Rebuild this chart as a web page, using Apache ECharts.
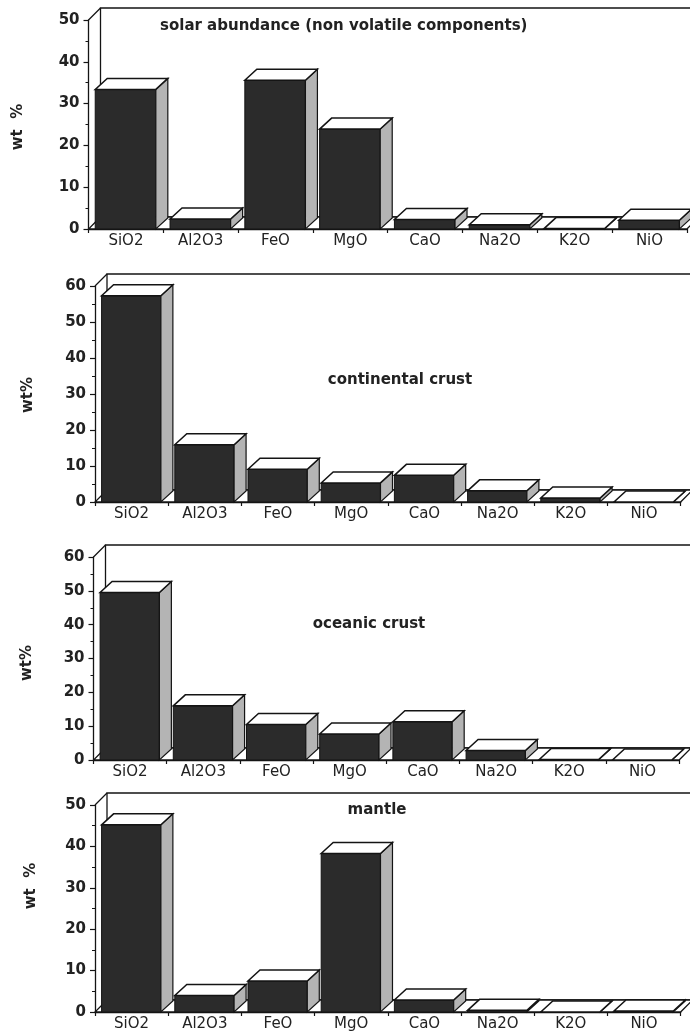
<!DOCTYPE html>
<html><head><meta charset="utf-8">
<script src="https://cdn.jsdelivr.net/npm/echarts@6/dist/echarts.min.js"></script>
<style>html,body{margin:0;padding:0;background:#fff}#c{width:690px;height:1032px}</style>
</head><body><div id="c"></div>
<script>
// ---- data ----
const categories = ['SiO2', 'Al2O3', 'FeO', 'MgO', 'CaO', 'Na2O', 'K2O', 'NiO'];
const solarValues = [33.4, 2.4, 35.6, 23.9, 2.3, 1.0, 0.1, 2.1];
const continentalValues = [57.3, 15.9, 9.1, 5.3, 7.4, 3.1, 1.1, 0];
const oceanicValues = [49.5, 16.0, 10.5, 7.7, 11.3, 2.8, 0.15, 0];
const mantleValues = [45.2, 4.0, 7.5, 38.3, 2.9, 0.4, 0.03, 0.25];
const panelTitles = ['solar abundance (non volatile components)', 'continental crust', 'oceanic crust', 'mantle'];
const yMaxes = [50, 60, 60, 50];
const yNames = ['wt  %', 'wt%', 'wt%', 'wt  %'];
const panelValues = [solarValues, continentalValues, oceanicValues, mantleValues];

// ---- layout ----
const grids = [
  {left: 88.5, top: 20, width: 598.4, height: 209},
  {left: 95, top: 286, width: 585.6, height: 216},
  {left: 93.5, top: 557, width: 585.6, height: 203},
  {left: 95, top: 805, width: 585.6, height: 208}
];
const titlePos = [
  {x: 160, y: 26, align: 'left'},
  {x: 400, y: 380, align: 'center'},
  {x: 369, y: 624, align: 'center'},
  {x: 377, y: 810, align: 'center'}
];
const yNamePos = [[18, 127], [28, 395], [27, 663], [31, 886]];
const INK = '#141414';
const FONT = '"DejaVu Sans", "Liberation Sans", sans-serif';

function renderBar(params, api) {
  const idx = api.value(0), v = api.value(1);
  const base = api.coord([idx, 0]);
  const top = api.coord([idx, v]);
  const bw = api.size([1, 0])[0];
  const x0 = base[0] - bw / 2 + 0.09 * bw;
  const w = 0.81 * bw;
  const dx = 12, dy = -11;
  const yb = base[1], yt = top[1];
  return {type: 'group', children: [
    {type: 'rect', shape: {x: x0, y: yt, width: w, height: yb - yt},
     style: {fill: '#2b2b2b', stroke: INK, lineWidth: 1}},
    {type: 'polygon', shape: {points: [[x0 + w, yt], [x0 + w + dx, yt + dy], [x0 + w + dx, yb + dy], [x0 + w, yb]]},
     style: {fill: '#b4b4b4', stroke: INK, lineWidth: 1.2}},
    {type: 'polygon', shape: {points: [[x0, yt], [x0 + w, yt], [x0 + w + dx, yt + dy], [x0 + dx, yt + dy]]},
     style: {fill: '#fff', stroke: INK, lineWidth: 1.5}}
  ]};
}

function makeFrame(ymax) {
  return function (params, api) {
    const bw = api.size([1, 0])[0];
    const left = api.coord([0, 0])[0] - bw / 2;
    const right = api.coord([categories.length - 1, 0])[0] + bw / 2;
    const yb = api.coord([0, 0])[1];
    const yt = api.coord([0, ymax])[1];
    const DX = 12, DY = -12;
    return {type: 'group', children: [
      {type: 'polygon', shape: {points: [[left + DX, yt + DY], [right + DX, yt + DY], [right + DX, yb + DY], [left + DX, yb + DY]]},
       style: {fill: '#fff', stroke: INK, lineWidth: 1.3}},
      {type: 'line', shape: {x1: left, y1: yt, x2: left + DX, y2: yt + DY},
       style: {stroke: INK, lineWidth: 1.3}},
      {type: 'polygon', shape: {points: [[left, yb], [right, yb], [right + DX, yb + DY], [left + DX, yb + DY]]},
       style: {fill: '#fff', stroke: INK, lineWidth: 1.3}}
    ]};
  };
}

const option = {
  backgroundColor: '#fff',
  animation: false,
  grid: grids.map(g => Object.assign({containLabel: false}, g)),
  xAxis: grids.map((g, i) => ({
    type: 'category', gridIndex: i, data: categories,
    axisLine: {show: true, lineStyle: {color: INK, width: 1.3}},
    axisTick: {show: true, alignWithLabel: false, length: 4, lineStyle: {color: INK, width: 1.2}},
    axisLabel: {show: true, interval: 0, margin: 5, fontSize: 15, fontFamily: FONT, color: '#222'},
    splitLine: {show: false}
  })),
  yAxis: grids.map((g, i) => ({
    type: 'value', gridIndex: i, min: 0, max: yMaxes[i], interval: 10,
    axisLine: {show: true, lineStyle: {color: INK, width: 1.3}},
    axisTick: {show: true, length: 5, lineStyle: {color: INK, width: 1.2}},
    minorTick: {show: true, splitNumber: 2, length: 3, lineStyle: {color: INK, width: 1}},
    axisLabel: {margin: 9, fontSize: 15, fontWeight: 'bold', fontFamily: FONT, color: '#222'},
    splitLine: {show: false}
  })),
  series: []
};

panelValues.forEach((vals, i) => {
  option.series.push({
    type: 'custom', xAxisIndex: i, yAxisIndex: i, z: 1, clip: false,
    renderItem: makeFrame(yMaxes[i]), data: [[0, 0]], silent: true
  });
  option.series.push({
    type: 'custom', xAxisIndex: i, yAxisIndex: i, z: 2, clip: false,
    renderItem: renderBar, data: vals.map((v, k) => [k, v]),
    encode: {x: 0, y: 1}
  });
});

option.graphic = [];
panelTitles.forEach((t, i) => {
  option.graphic.push({
    type: 'text', x: titlePos[i].x, y: titlePos[i].y, z: 10,
    style: {text: t, font: 'bold 15px ' + FONT, fill: '#222', align: titlePos[i].align, verticalAlign: 'middle'}
  });
  option.graphic.push({
    type: 'text', x: yNamePos[i][0], y: yNamePos[i][1], rotation: Math.PI / 2, z: 10,
    style: {text: yNames[i], font: 'bold 15px ' + FONT, fill: '#222', align: 'center', verticalAlign: 'middle'}
  });
});

const chart = echarts.init(document.getElementById('c'), null, {renderer: 'canvas'});
chart.setOption(option);
</script>
</body></html>
